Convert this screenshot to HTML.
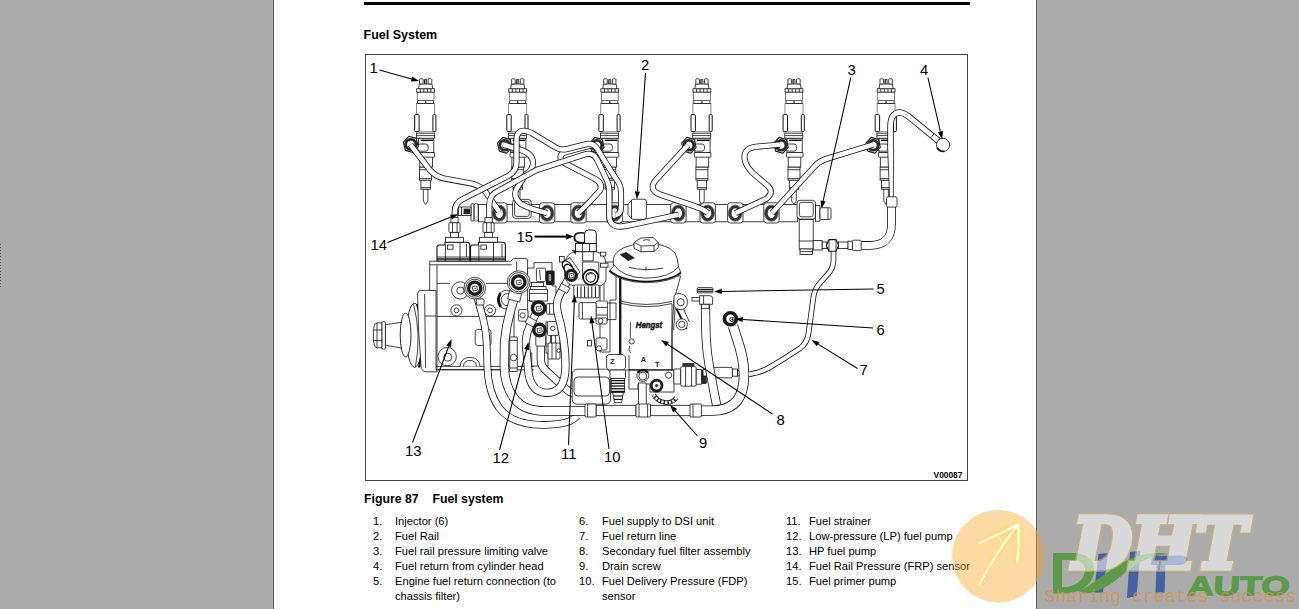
<!DOCTYPE html>
<html lang="en">
<head>
<meta charset="utf-8">
<title>Fuel System</title>
<style>
html,body{margin:0;padding:0;}
body{width:1299px;height:609px;overflow:hidden;background:#ababab;position:relative;font-family:"Liberation Sans",Arial,Helvetica,sans-serif;color:#000;}
.edgeL{position:absolute;left:272px;top:0;width:1px;height:609px;background:#b2b2b2;}
.edgeR{position:absolute;left:1037px;top:0;width:1px;height:609px;background:#b2b2b2;}
.sheet{position:absolute;left:273px;top:0;width:762px;height:609px;background:#fff;border-left:1px solid #555;border-right:1px solid #555;}
.rule{position:absolute;left:364px;top:2px;width:606px;height:3px;background:#000;}
h1{position:absolute;left:363.6px;top:28px;margin:0;font-size:12.5px;line-height:15px;font-weight:bold;white-space:nowrap;}
.cap{position:absolute;left:364px;top:492px;margin:0;font-size:12.3px;line-height:15px;font-weight:bold;white-space:pre;}
.fig{position:absolute;left:365px;top:54px;width:603px;height:427px;border:1px solid #444;box-sizing:border-box;}
ol{list-style:none;margin:0;padding:0;position:absolute;top:514px;font-size:11.15px;line-height:15px;}
ol li{position:relative;height:15px;white-space:nowrap;}
ol li span{position:absolute;left:0;top:0;}
ol li b{font-weight:normal;position:absolute;top:0;white-space:pre;}
#diagram{position:absolute;left:0;top:0;width:1299px;height:609px;}
#diagram text{font-family:"Liberation Sans",Arial,Helvetica,sans-serif;}
.dots{position:absolute;left:0;top:244px;width:1px;height:43px;background:repeating-linear-gradient(to bottom,#5a5a5a 0,#5a5a5a 1px,transparent 1px,transparent 3px);}

</style>
</head>
<body>
<div class="edgeL"></div><div class="edgeR"></div>
<div class="sheet"></div>
<div class="dots"></div>
<div class="rule"></div>
<h1>Fuel System</h1>
<div class="fig"></div>
<svg id="diagram" width="1299" height="609" viewBox="0 0 1299 609">
<rect x="478.4" y="204.5" width="319.0" height="17.3" rx="0" fill="#fff" stroke="#111" stroke-width="0.8"/>
<rect x="471.0" y="203.6" width="3.0" height="17.4" rx="1" fill="#fff" stroke="#111" stroke-width="0.8"/>
<rect x="474.2" y="203.6" width="4.0" height="17.4" rx="1.5" fill="#fff" stroke="#111" stroke-width="0.8"/>
<rect x="458.4" y="207.0" width="12.6" height="8.6" rx="0" fill="#fff" stroke="#111" stroke-width="0.8"/>
<rect x="463.6" y="208.6" width="6.6" height="5.6" fill="#222"/>
<line x1="461.5" y1="207.0" x2="461.5" y2="215.6" stroke="#111" stroke-width="0.8"/>
<rect x="512.6" y="199.4" width="18.6" height="19.0" rx="3" fill="#fff" stroke="#111" stroke-width="0.8"/>
<rect x="514.6" y="201.4" width="14.6" height="15.0" rx="2" fill="#fff" stroke="#111" stroke-width="0.8"/>
<path d="M628 204.5 L631 200.6 Q632 199.2 634 199.2 H644 Q646.4 199.2 646.4 201.6 V217 Q646.4 219.4 644 219.4 H634 Q632 219.4 631 218 L628 214.6 Z" fill="#fff" stroke="#111" stroke-width="0.8" stroke-linejoin="round" />
<line x1="631.5" y1="200.5" x2="631.5" y2="218.5" stroke="#111" stroke-width="0.8"/>
<rect x="797.0" y="200.3" width="18.5" height="18.8" rx="3" fill="#fff" stroke="#111" stroke-width="0.8"/>
<rect x="799.4" y="202.4" width="13.8" height="14.4" rx="2" fill="#fff" stroke="#111" stroke-width="0.8"/>
<rect x="815.5" y="205.6" width="4.4" height="15.6" rx="0" fill="#fff" stroke="#111" stroke-width="0.8"/>
<rect x="820.0" y="207.7" width="11.0" height="11.8" rx="1.5" fill="#fff" stroke="#111" stroke-width="0.8"/>
<line x1="828.0" y1="207.7" x2="828.0" y2="219.5" stroke="#111" stroke-width="0.8"/>
<rect x="799.2" y="219.5" width="14.0" height="29.6" rx="0" fill="#fff" stroke="#111" stroke-width="0.8"/>
<line x1="799.2" y1="241.0" x2="813.2" y2="241.0" stroke="#111" stroke-width="0.8"/>
<rect x="800.0" y="249.0" width="12.4" height="5.4" rx="0" fill="#fff" stroke="#111" stroke-width="0.8"/>
<line x1="800.0" y1="251.6" x2="812.4" y2="251.6" stroke="#111" stroke-width="0.8"/>
<rect x="491.7" y="202.8" width="15.4" height="20.2" rx="2.8" fill="#fff" stroke="#111" stroke-width="0.8"/>
<ellipse cx="499.3" cy="213.20000000000002" rx="5.2" ry="6.4" fill="#fff" stroke="#333" stroke-width="3.0"/>
<ellipse cx="499.3" cy="213.20000000000002" rx="6.9" ry="8.2" fill="none" stroke="#333" stroke-width="0.6"/>
<rect x="539.4" y="202.8" width="15.4" height="20.2" rx="2.8" fill="#fff" stroke="#111" stroke-width="0.8"/>
<ellipse cx="547" cy="213.20000000000002" rx="5.2" ry="6.4" fill="#fff" stroke="#333" stroke-width="3.0"/>
<ellipse cx="547" cy="213.20000000000002" rx="6.9" ry="8.2" fill="none" stroke="#333" stroke-width="0.6"/>
<rect x="570.8" y="202.8" width="15.4" height="20.2" rx="2.8" fill="#fff" stroke="#111" stroke-width="0.8"/>
<ellipse cx="578.4" cy="213.20000000000002" rx="5.2" ry="6.4" fill="#fff" stroke="#333" stroke-width="3.0"/>
<ellipse cx="578.4" cy="213.20000000000002" rx="6.9" ry="8.2" fill="none" stroke="#333" stroke-width="0.6"/>
<rect x="607.0" y="202.8" width="15.4" height="20.2" rx="2.8" fill="#fff" stroke="#111" stroke-width="0.8"/>
<ellipse cx="614.6" cy="213.20000000000002" rx="5.2" ry="6.4" fill="#fff" stroke="#333" stroke-width="3.0"/>
<ellipse cx="614.6" cy="213.20000000000002" rx="6.9" ry="8.2" fill="none" stroke="#333" stroke-width="0.6"/>
<rect x="670.7" y="202.8" width="15.4" height="20.2" rx="2.8" fill="#fff" stroke="#111" stroke-width="0.8"/>
<ellipse cx="678.3" cy="213.20000000000002" rx="5.2" ry="6.4" fill="#fff" stroke="#333" stroke-width="3.0"/>
<ellipse cx="678.3" cy="213.20000000000002" rx="6.9" ry="8.2" fill="none" stroke="#333" stroke-width="0.6"/>
<rect x="700.0" y="202.8" width="15.4" height="20.2" rx="2.8" fill="#fff" stroke="#111" stroke-width="0.8"/>
<ellipse cx="707.6" cy="213.20000000000002" rx="5.2" ry="6.4" fill="#fff" stroke="#333" stroke-width="3.0"/>
<ellipse cx="707.6" cy="213.20000000000002" rx="6.9" ry="8.2" fill="none" stroke="#333" stroke-width="0.6"/>
<rect x="727.6" y="202.8" width="15.4" height="20.2" rx="2.8" fill="#fff" stroke="#111" stroke-width="0.8"/>
<ellipse cx="735.2" cy="213.20000000000002" rx="5.2" ry="6.4" fill="#fff" stroke="#333" stroke-width="3.0"/>
<ellipse cx="735.2" cy="213.20000000000002" rx="6.9" ry="8.2" fill="none" stroke="#333" stroke-width="0.6"/>
<rect x="763.8" y="202.8" width="15.4" height="20.2" rx="2.8" fill="#fff" stroke="#111" stroke-width="0.8"/>
<ellipse cx="771.4" cy="213.20000000000002" rx="5.2" ry="6.4" fill="#fff" stroke="#333" stroke-width="3.0"/>
<ellipse cx="771.4" cy="213.20000000000002" rx="6.9" ry="8.2" fill="none" stroke="#333" stroke-width="0.6"/>
<path d="M423.3 189 V201 L425.6 204.5 L427.90000000000003 201 V189 Z" fill="#fff" stroke="#111" stroke-width="0.8" stroke-linejoin="round" />
<rect x="420.9" y="180.0" width="9.4" height="9.2" rx="0" fill="#fff" stroke="#111" stroke-width="0.8"/>
<line x1="420.9" y1="187.6" x2="430.3" y2="187.6" stroke="#111" stroke-width="0.8"/>
<rect x="419.6" y="167.0" width="12.0" height="13.2" rx="0" fill="#fff" stroke="#111" stroke-width="0.8"/>
<line x1="419.6" y1="169.7" x2="431.6" y2="169.7" stroke="#111" stroke-width="0.8"/>
<line x1="419.6" y1="178.6" x2="431.6" y2="178.6" stroke="#111" stroke-width="0.8"/>
<rect x="419.8" y="156.4" width="12.6" height="10.6" rx="0" fill="#fff" stroke="#111" stroke-width="0.8"/>
<rect x="418.0" y="152.3" width="16.6" height="4.9" rx="0.8" fill="#fff" stroke="#111" stroke-width="0.8"/>
<rect x="418.6" y="138.0" width="15.2" height="14.6" rx="0" fill="#fff" stroke="#111" stroke-width="0.8"/>
<rect x="417.6" y="144.0" width="10.6" height="7.2" rx="2.6" fill="#fff" stroke="#111" stroke-width="0.8"/>
<line x1="420.6" y1="140.3" x2="433.2" y2="140.3" stroke="#111" stroke-width="1.5"/>
<rect x="416.4" y="133.2" width="18.0" height="5.0" rx="0" fill="#fff" stroke="#111" stroke-width="0.8"/>
<line x1="416.4" y1="135.6" x2="434.4" y2="135.6" stroke="#111" stroke-width="0.8"/>
<rect x="416.6" y="103.4" width="18.0" height="28.4" rx="0" fill="#fff" stroke="#555" stroke-width="0.7"/>
<rect x="414.7" y="114.6" width="4.4" height="17.0" rx="1" fill="#fff" stroke="#111" stroke-width="1.0"/>
<rect x="432.9" y="114.6" width="3.0" height="17.0" rx="1" fill="#fff" stroke="#111" stroke-width="1.0"/>
<rect x="417.6" y="100.6" width="16.0" height="2.8" rx="0" fill="#fff" stroke="#111" stroke-width="0.8"/>
<rect x="424.8" y="101.4" width="1.6" height="1.4" fill="#111"/>
<rect x="417.2" y="92.0" width="16.8" height="8.6" rx="0" fill="#fff" stroke="#444" stroke-width="0.7"/>
<rect x="416.7" y="88.7" width="17.8" height="3.4" rx="0" fill="#fff" stroke="#111" stroke-width="0.8"/>
<line x1="420.3" y1="88.7" x2="420.3" y2="92.1" stroke="#111" stroke-width="0.8"/>
<line x1="423.8" y1="88.7" x2="423.8" y2="92.1" stroke="#111" stroke-width="0.8"/>
<line x1="427.4" y1="88.7" x2="427.4" y2="92.1" stroke="#111" stroke-width="0.8"/>
<line x1="430.9" y1="88.7" x2="430.9" y2="92.1" stroke="#111" stroke-width="0.8"/>
<path d="M418.6 88.7 L419.20000000000005 84 H432.0 L432.6 88.7 Z" fill="#fff" stroke="#111" stroke-width="0.8" stroke-linejoin="round" />
<rect x="419.5" y="78.8" width="3.6" height="5.2" rx="0.8" fill="#fff" stroke="#111" stroke-width="0.8"/>
<rect x="428.2" y="78.8" width="3.6" height="5.2" rx="0.8" fill="#fff" stroke="#111" stroke-width="0.8"/>
<rect x="424.0" y="79.2" width="3" height="4.8" fill="#222"/>
<rect x="425.3" y="80" width="0.9" height="3.6" fill="#ddd"/>
<path d="M515.4000000000001 189 V201 L517.7 204.5 L520.0 201 V189 Z" fill="#fff" stroke="#111" stroke-width="0.8" stroke-linejoin="round" />
<rect x="513.0" y="180.0" width="9.4" height="9.2" rx="0" fill="#fff" stroke="#111" stroke-width="0.8"/>
<line x1="513.0" y1="187.6" x2="522.4" y2="187.6" stroke="#111" stroke-width="0.8"/>
<rect x="511.7" y="167.0" width="12.0" height="13.2" rx="0" fill="#fff" stroke="#111" stroke-width="0.8"/>
<line x1="511.7" y1="169.7" x2="523.7" y2="169.7" stroke="#111" stroke-width="0.8"/>
<line x1="511.7" y1="178.6" x2="523.7" y2="178.6" stroke="#111" stroke-width="0.8"/>
<rect x="511.9" y="156.4" width="12.6" height="10.6" rx="0" fill="#fff" stroke="#111" stroke-width="0.8"/>
<rect x="510.1" y="152.3" width="16.6" height="4.9" rx="0.8" fill="#fff" stroke="#111" stroke-width="0.8"/>
<rect x="510.7" y="138.0" width="15.2" height="14.6" rx="0" fill="#fff" stroke="#111" stroke-width="0.8"/>
<rect x="509.7" y="144.0" width="10.6" height="7.2" rx="2.6" fill="#fff" stroke="#111" stroke-width="0.8"/>
<line x1="512.7" y1="140.3" x2="525.3" y2="140.3" stroke="#111" stroke-width="1.5"/>
<rect x="508.5" y="133.2" width="18.0" height="5.0" rx="0" fill="#fff" stroke="#111" stroke-width="0.8"/>
<line x1="508.5" y1="135.6" x2="526.5" y2="135.6" stroke="#111" stroke-width="0.8"/>
<rect x="508.7" y="103.4" width="18.0" height="28.4" rx="0" fill="#fff" stroke="#555" stroke-width="0.7"/>
<rect x="506.8" y="114.6" width="4.4" height="17.0" rx="1" fill="#fff" stroke="#111" stroke-width="1.0"/>
<rect x="525.0" y="114.6" width="3.0" height="17.0" rx="1" fill="#fff" stroke="#111" stroke-width="1.0"/>
<rect x="509.7" y="100.6" width="16.0" height="2.8" rx="0" fill="#fff" stroke="#111" stroke-width="0.8"/>
<rect x="516.9000000000001" y="101.4" width="1.6" height="1.4" fill="#111"/>
<rect x="509.3" y="92.0" width="16.8" height="8.6" rx="0" fill="#fff" stroke="#444" stroke-width="0.7"/>
<rect x="508.8" y="88.7" width="17.8" height="3.4" rx="0" fill="#fff" stroke="#111" stroke-width="0.8"/>
<line x1="512.4" y1="88.7" x2="512.4" y2="92.1" stroke="#111" stroke-width="0.8"/>
<line x1="515.9" y1="88.7" x2="515.9" y2="92.1" stroke="#111" stroke-width="0.8"/>
<line x1="519.5" y1="88.7" x2="519.5" y2="92.1" stroke="#111" stroke-width="0.8"/>
<line x1="523.0" y1="88.7" x2="523.0" y2="92.1" stroke="#111" stroke-width="0.8"/>
<path d="M510.70000000000005 88.7 L511.30000000000007 84 H524.1 L524.7 88.7 Z" fill="#fff" stroke="#111" stroke-width="0.8" stroke-linejoin="round" />
<rect x="511.6" y="78.8" width="3.6" height="5.2" rx="0.8" fill="#fff" stroke="#111" stroke-width="0.8"/>
<rect x="520.3" y="78.8" width="3.6" height="5.2" rx="0.8" fill="#fff" stroke="#111" stroke-width="0.8"/>
<rect x="516.1" y="79.2" width="3" height="4.8" fill="#222"/>
<rect x="517.4000000000001" y="80" width="0.9" height="3.6" fill="#ddd"/>
<path d="M607.5 189 V201 L609.8 204.5 L612.0999999999999 201 V189 Z" fill="#fff" stroke="#111" stroke-width="0.8" stroke-linejoin="round" />
<rect x="605.1" y="180.0" width="9.4" height="9.2" rx="0" fill="#fff" stroke="#111" stroke-width="0.8"/>
<line x1="605.1" y1="187.6" x2="614.5" y2="187.6" stroke="#111" stroke-width="0.8"/>
<rect x="603.8" y="167.0" width="12.0" height="13.2" rx="0" fill="#fff" stroke="#111" stroke-width="0.8"/>
<line x1="603.8" y1="169.7" x2="615.8" y2="169.7" stroke="#111" stroke-width="0.8"/>
<line x1="603.8" y1="178.6" x2="615.8" y2="178.6" stroke="#111" stroke-width="0.8"/>
<rect x="604.0" y="156.4" width="12.6" height="10.6" rx="0" fill="#fff" stroke="#111" stroke-width="0.8"/>
<rect x="602.2" y="152.3" width="16.6" height="4.9" rx="0.8" fill="#fff" stroke="#111" stroke-width="0.8"/>
<rect x="602.8" y="138.0" width="15.2" height="14.6" rx="0" fill="#fff" stroke="#111" stroke-width="0.8"/>
<rect x="601.8" y="144.0" width="10.6" height="7.2" rx="2.6" fill="#fff" stroke="#111" stroke-width="0.8"/>
<line x1="604.8" y1="140.3" x2="617.4" y2="140.3" stroke="#111" stroke-width="1.5"/>
<rect x="600.6" y="133.2" width="18.0" height="5.0" rx="0" fill="#fff" stroke="#111" stroke-width="0.8"/>
<line x1="600.6" y1="135.6" x2="618.6" y2="135.6" stroke="#111" stroke-width="0.8"/>
<rect x="600.8" y="103.4" width="18.0" height="28.4" rx="0" fill="#fff" stroke="#555" stroke-width="0.7"/>
<rect x="598.9" y="114.6" width="4.4" height="17.0" rx="1" fill="#fff" stroke="#111" stroke-width="1.0"/>
<rect x="617.1" y="114.6" width="3.0" height="17.0" rx="1" fill="#fff" stroke="#111" stroke-width="1.0"/>
<rect x="601.8" y="100.6" width="16.0" height="2.8" rx="0" fill="#fff" stroke="#111" stroke-width="0.8"/>
<rect x="609.0" y="101.4" width="1.6" height="1.4" fill="#111"/>
<rect x="601.4" y="92.0" width="16.8" height="8.6" rx="0" fill="#fff" stroke="#444" stroke-width="0.7"/>
<rect x="600.9" y="88.7" width="17.8" height="3.4" rx="0" fill="#fff" stroke="#111" stroke-width="0.8"/>
<line x1="604.5" y1="88.7" x2="604.5" y2="92.1" stroke="#111" stroke-width="0.8"/>
<line x1="608.0" y1="88.7" x2="608.0" y2="92.1" stroke="#111" stroke-width="0.8"/>
<line x1="611.6" y1="88.7" x2="611.6" y2="92.1" stroke="#111" stroke-width="0.8"/>
<line x1="615.1" y1="88.7" x2="615.1" y2="92.1" stroke="#111" stroke-width="0.8"/>
<path d="M602.8 88.7 L603.4 84 H616.1999999999999 L616.8 88.7 Z" fill="#fff" stroke="#111" stroke-width="0.8" stroke-linejoin="round" />
<rect x="603.7" y="78.8" width="3.6" height="5.2" rx="0.8" fill="#fff" stroke="#111" stroke-width="0.8"/>
<rect x="612.4" y="78.8" width="3.6" height="5.2" rx="0.8" fill="#fff" stroke="#111" stroke-width="0.8"/>
<rect x="608.1999999999999" y="79.2" width="3" height="4.8" fill="#222"/>
<rect x="609.5" y="80" width="0.9" height="3.6" fill="#ddd"/>
<path d="M699.6 189 V201 L701.9 204.5 L704.1999999999999 201 V189 Z" fill="#fff" stroke="#111" stroke-width="0.8" stroke-linejoin="round" />
<rect x="697.2" y="180.0" width="9.4" height="9.2" rx="0" fill="#fff" stroke="#111" stroke-width="0.8"/>
<line x1="697.2" y1="187.6" x2="706.6" y2="187.6" stroke="#111" stroke-width="0.8"/>
<rect x="695.9" y="167.0" width="12.0" height="13.2" rx="0" fill="#fff" stroke="#111" stroke-width="0.8"/>
<line x1="695.9" y1="169.7" x2="707.9" y2="169.7" stroke="#111" stroke-width="0.8"/>
<line x1="695.9" y1="178.6" x2="707.9" y2="178.6" stroke="#111" stroke-width="0.8"/>
<rect x="696.1" y="156.4" width="12.6" height="10.6" rx="0" fill="#fff" stroke="#111" stroke-width="0.8"/>
<rect x="694.3" y="152.3" width="16.6" height="4.9" rx="0.8" fill="#fff" stroke="#111" stroke-width="0.8"/>
<rect x="694.9" y="138.0" width="15.2" height="14.6" rx="0" fill="#fff" stroke="#111" stroke-width="0.8"/>
<rect x="693.9" y="144.0" width="10.6" height="7.2" rx="2.6" fill="#fff" stroke="#111" stroke-width="0.8"/>
<line x1="696.9" y1="140.3" x2="709.5" y2="140.3" stroke="#111" stroke-width="1.5"/>
<rect x="692.7" y="133.2" width="18.0" height="5.0" rx="0" fill="#fff" stroke="#111" stroke-width="0.8"/>
<line x1="692.7" y1="135.6" x2="710.7" y2="135.6" stroke="#111" stroke-width="0.8"/>
<rect x="692.9" y="103.4" width="18.0" height="28.4" rx="0" fill="#fff" stroke="#555" stroke-width="0.7"/>
<rect x="691.0" y="114.6" width="4.4" height="17.0" rx="1" fill="#fff" stroke="#111" stroke-width="1.0"/>
<rect x="709.2" y="114.6" width="3.0" height="17.0" rx="1" fill="#fff" stroke="#111" stroke-width="1.0"/>
<rect x="693.9" y="100.6" width="16.0" height="2.8" rx="0" fill="#fff" stroke="#111" stroke-width="0.8"/>
<rect x="701.1" y="101.4" width="1.6" height="1.4" fill="#111"/>
<rect x="693.5" y="92.0" width="16.8" height="8.6" rx="0" fill="#fff" stroke="#444" stroke-width="0.7"/>
<rect x="693.0" y="88.7" width="17.8" height="3.4" rx="0" fill="#fff" stroke="#111" stroke-width="0.8"/>
<line x1="696.6" y1="88.7" x2="696.6" y2="92.1" stroke="#111" stroke-width="0.8"/>
<line x1="700.1" y1="88.7" x2="700.1" y2="92.1" stroke="#111" stroke-width="0.8"/>
<line x1="703.7" y1="88.7" x2="703.7" y2="92.1" stroke="#111" stroke-width="0.8"/>
<line x1="707.2" y1="88.7" x2="707.2" y2="92.1" stroke="#111" stroke-width="0.8"/>
<path d="M694.9 88.7 L695.5 84 H708.3 L708.9 88.7 Z" fill="#fff" stroke="#111" stroke-width="0.8" stroke-linejoin="round" />
<rect x="695.8" y="78.8" width="3.6" height="5.2" rx="0.8" fill="#fff" stroke="#111" stroke-width="0.8"/>
<rect x="704.5" y="78.8" width="3.6" height="5.2" rx="0.8" fill="#fff" stroke="#111" stroke-width="0.8"/>
<rect x="700.3" y="79.2" width="3" height="4.8" fill="#222"/>
<rect x="701.6" y="80" width="0.9" height="3.6" fill="#ddd"/>
<path d="M791.7 189 V201 L794.0 204.5 L796.3 201 V189 Z" fill="#fff" stroke="#111" stroke-width="0.8" stroke-linejoin="round" />
<rect x="789.3" y="180.0" width="9.4" height="9.2" rx="0" fill="#fff" stroke="#111" stroke-width="0.8"/>
<line x1="789.3" y1="187.6" x2="798.7" y2="187.6" stroke="#111" stroke-width="0.8"/>
<rect x="788.0" y="167.0" width="12.0" height="13.2" rx="0" fill="#fff" stroke="#111" stroke-width="0.8"/>
<line x1="788.0" y1="169.7" x2="800.0" y2="169.7" stroke="#111" stroke-width="0.8"/>
<line x1="788.0" y1="178.6" x2="800.0" y2="178.6" stroke="#111" stroke-width="0.8"/>
<rect x="788.2" y="156.4" width="12.6" height="10.6" rx="0" fill="#fff" stroke="#111" stroke-width="0.8"/>
<rect x="786.4" y="152.3" width="16.6" height="4.9" rx="0.8" fill="#fff" stroke="#111" stroke-width="0.8"/>
<rect x="787.0" y="138.0" width="15.2" height="14.6" rx="0" fill="#fff" stroke="#111" stroke-width="0.8"/>
<rect x="786.0" y="144.0" width="10.6" height="7.2" rx="2.6" fill="#fff" stroke="#111" stroke-width="0.8"/>
<line x1="789.0" y1="140.3" x2="801.6" y2="140.3" stroke="#111" stroke-width="1.5"/>
<rect x="784.8" y="133.2" width="18.0" height="5.0" rx="0" fill="#fff" stroke="#111" stroke-width="0.8"/>
<line x1="784.8" y1="135.6" x2="802.8" y2="135.6" stroke="#111" stroke-width="0.8"/>
<rect x="785.0" y="103.4" width="18.0" height="28.4" rx="0" fill="#fff" stroke="#555" stroke-width="0.7"/>
<rect x="783.1" y="114.6" width="4.4" height="17.0" rx="1" fill="#fff" stroke="#111" stroke-width="1.0"/>
<rect x="801.3" y="114.6" width="3.0" height="17.0" rx="1" fill="#fff" stroke="#111" stroke-width="1.0"/>
<rect x="786.0" y="100.6" width="16.0" height="2.8" rx="0" fill="#fff" stroke="#111" stroke-width="0.8"/>
<rect x="793.2" y="101.4" width="1.6" height="1.4" fill="#111"/>
<rect x="785.6" y="92.0" width="16.8" height="8.6" rx="0" fill="#fff" stroke="#444" stroke-width="0.7"/>
<rect x="785.1" y="88.7" width="17.8" height="3.4" rx="0" fill="#fff" stroke="#111" stroke-width="0.8"/>
<line x1="788.7" y1="88.7" x2="788.7" y2="92.1" stroke="#111" stroke-width="0.8"/>
<line x1="792.2" y1="88.7" x2="792.2" y2="92.1" stroke="#111" stroke-width="0.8"/>
<line x1="795.8" y1="88.7" x2="795.8" y2="92.1" stroke="#111" stroke-width="0.8"/>
<line x1="799.3" y1="88.7" x2="799.3" y2="92.1" stroke="#111" stroke-width="0.8"/>
<path d="M787.0 88.7 L787.6 84 H800.4 L801.0 88.7 Z" fill="#fff" stroke="#111" stroke-width="0.8" stroke-linejoin="round" />
<rect x="787.9" y="78.8" width="3.6" height="5.2" rx="0.8" fill="#fff" stroke="#111" stroke-width="0.8"/>
<rect x="796.6" y="78.8" width="3.6" height="5.2" rx="0.8" fill="#fff" stroke="#111" stroke-width="0.8"/>
<rect x="792.4" y="79.2" width="3" height="4.8" fill="#222"/>
<rect x="793.7" y="80" width="0.9" height="3.6" fill="#ddd"/>
<path d="M883.8000000000001 189 V201 L886.1 204.5 L888.4 201 V189 Z" fill="#fff" stroke="#111" stroke-width="0.8" stroke-linejoin="round" />
<rect x="881.4" y="180.0" width="9.4" height="9.2" rx="0" fill="#fff" stroke="#111" stroke-width="0.8"/>
<line x1="881.4" y1="187.6" x2="890.8" y2="187.6" stroke="#111" stroke-width="0.8"/>
<rect x="880.1" y="167.0" width="12.0" height="13.2" rx="0" fill="#fff" stroke="#111" stroke-width="0.8"/>
<line x1="880.1" y1="169.7" x2="892.1" y2="169.7" stroke="#111" stroke-width="0.8"/>
<line x1="880.1" y1="178.6" x2="892.1" y2="178.6" stroke="#111" stroke-width="0.8"/>
<rect x="880.3" y="156.4" width="12.6" height="10.6" rx="0" fill="#fff" stroke="#111" stroke-width="0.8"/>
<rect x="878.5" y="152.3" width="16.6" height="4.9" rx="0.8" fill="#fff" stroke="#111" stroke-width="0.8"/>
<rect x="879.1" y="138.0" width="15.2" height="14.6" rx="0" fill="#fff" stroke="#111" stroke-width="0.8"/>
<rect x="878.1" y="144.0" width="10.6" height="7.2" rx="2.6" fill="#fff" stroke="#111" stroke-width="0.8"/>
<line x1="881.1" y1="140.3" x2="893.7" y2="140.3" stroke="#111" stroke-width="1.5"/>
<rect x="876.9" y="133.2" width="18.0" height="5.0" rx="0" fill="#fff" stroke="#111" stroke-width="0.8"/>
<line x1="876.9" y1="135.6" x2="894.9" y2="135.6" stroke="#111" stroke-width="0.8"/>
<rect x="877.1" y="103.4" width="18.0" height="28.4" rx="0" fill="#fff" stroke="#555" stroke-width="0.7"/>
<rect x="875.2" y="114.6" width="4.4" height="17.0" rx="1" fill="#fff" stroke="#111" stroke-width="1.0"/>
<rect x="893.4" y="114.6" width="3.0" height="17.0" rx="1" fill="#fff" stroke="#111" stroke-width="1.0"/>
<rect x="878.1" y="100.6" width="16.0" height="2.8" rx="0" fill="#fff" stroke="#111" stroke-width="0.8"/>
<rect x="885.3000000000001" y="101.4" width="1.6" height="1.4" fill="#111"/>
<rect x="877.7" y="92.0" width="16.8" height="8.6" rx="0" fill="#fff" stroke="#444" stroke-width="0.7"/>
<rect x="877.2" y="88.7" width="17.8" height="3.4" rx="0" fill="#fff" stroke="#111" stroke-width="0.8"/>
<line x1="880.8" y1="88.7" x2="880.8" y2="92.1" stroke="#111" stroke-width="0.8"/>
<line x1="884.3" y1="88.7" x2="884.3" y2="92.1" stroke="#111" stroke-width="0.8"/>
<line x1="887.9" y1="88.7" x2="887.9" y2="92.1" stroke="#111" stroke-width="0.8"/>
<line x1="891.4" y1="88.7" x2="891.4" y2="92.1" stroke="#111" stroke-width="0.8"/>
<path d="M879.1 88.7 L879.7 84 H892.5 L893.1 88.7 Z" fill="#fff" stroke="#111" stroke-width="0.8" stroke-linejoin="round" />
<rect x="880.0" y="78.8" width="3.6" height="5.2" rx="0.8" fill="#fff" stroke="#111" stroke-width="0.8"/>
<rect x="888.7" y="78.8" width="3.6" height="5.2" rx="0.8" fill="#fff" stroke="#111" stroke-width="0.8"/>
<rect x="884.5" y="79.2" width="3" height="4.8" fill="#222"/>
<rect x="885.8000000000001" y="80" width="0.9" height="3.6" fill="#ddd"/>
<polygon points="511.9,147.4 506.6,153.2 499.4,151.1 497.5,143.2 502.8,137.4 510.0,139.5" fill="#fff" stroke="#111" stroke-width="1.1" stroke-linejoin="round"/>
<circle cx="504.70000000000005" cy="145.3" r="4.8999999999999995" fill="#fff" stroke="#2a2a2a" stroke-width="2.8"/>
<polygon points="604.0,147.4 598.7,153.2 591.5,151.1 589.6,143.2 594.9,137.4 602.1,139.5" fill="#fff" stroke="#111" stroke-width="1.1" stroke-linejoin="round"/>
<circle cx="596.8" cy="145.3" r="4.8999999999999995" fill="#fff" stroke="#2a2a2a" stroke-width="2.8"/>
<polygon points="696.1,147.4 690.8,153.2 683.6,151.1 681.7,143.2 687.0,137.4 694.2,139.5" fill="#fff" stroke="#111" stroke-width="1.1" stroke-linejoin="round"/>
<circle cx="688.9" cy="145.3" r="4.8999999999999995" fill="#fff" stroke="#2a2a2a" stroke-width="2.8"/>
<polygon points="788.2,147.4 782.9,153.2 775.7,151.1 773.8,143.2 779.1,137.4 786.3,139.5" fill="#fff" stroke="#111" stroke-width="1.1" stroke-linejoin="round"/>
<circle cx="781.0" cy="145.3" r="4.8999999999999995" fill="#fff" stroke="#2a2a2a" stroke-width="2.8"/>
<polygon points="880.3,147.4 875.0,153.2 867.8,151.1 865.9,143.2 871.2,137.4 878.4,139.5" fill="#fff" stroke="#111" stroke-width="1.1" stroke-linejoin="round"/>
<circle cx="873.1" cy="145.3" r="4.8999999999999995" fill="#fff" stroke="#2a2a2a" stroke-width="2.8"/>
<polygon points="418.2,146.6 412.8,152.5 405.4,150.4 403.4,142.2 408.8,136.3 416.2,138.4" fill="#fff" stroke="#111" stroke-width="1.1" stroke-linejoin="round"/>
<circle cx="410.8" cy="144.4" r="5.1" fill="#fff" stroke="#2a2a2a" stroke-width="2.8"/>
<path d="M503 144.5 L521 150 Q533 154 533 163 Q533 170 526 174 L517 188 Q512 197 521 204 Q530 209 547 213" fill="none" stroke="#111" stroke-width="6.1" stroke-linecap="butt" stroke-linejoin="round"/><path d="M503 144.5 L521 150 Q533 154 533 163 Q533 170 526 174 L517 188 Q512 197 521 204 Q530 209 547 213" fill="none" stroke="#fff" stroke-width="4.5" stroke-linecap="butt" stroke-linejoin="round"/>
<path d="M596 144 L566 152 Q557 155 562.5 162 L594 178.4 Q603.5 183 600 190.5 L590.5 201 L578.5 213" fill="none" stroke="#111" stroke-width="6.1" stroke-linecap="butt" stroke-linejoin="round"/><path d="M596 144 L566 152 Q557 155 562.5 162 L594 178.4 Q603.5 183 600 190.5 L590.5 201 L578.5 213" fill="none" stroke="#fff" stroke-width="4.5" stroke-linecap="butt" stroke-linejoin="round"/>
<path d="M410.4 144.6 L429.6 169.6 Q435 176.4 444 178.4 L471 183.4 Q481 185.4 486 192.6 L499 211.4" fill="none" stroke="#111" stroke-width="6.1" stroke-linecap="butt" stroke-linejoin="round"/><path d="M410.4 144.6 L429.6 169.6 Q435 176.4 444 178.4 L471 183.4 Q481 185.4 486 192.6 L499 211.4" fill="none" stroke="#fff" stroke-width="4.5" stroke-linecap="butt" stroke-linejoin="round"/>
<path d="M688 145 L655 181 Q648.5 190 660 194.5 L694 206 Q703 209 708 213" fill="none" stroke="#111" stroke-width="6.1" stroke-linecap="butt" stroke-linejoin="round"/><path d="M688 145 L655 181 Q648.5 190 660 194.5 L694 206 Q703 209 708 213" fill="none" stroke="#fff" stroke-width="4.5" stroke-linecap="butt" stroke-linejoin="round"/>
<path d="M780 144.6 L756 146.8 Q742 148.5 745 161 Q747 168 755 175 L768 186 Q774.5 192.5 766 199 L735.5 213" fill="none" stroke="#111" stroke-width="6.1" stroke-linecap="butt" stroke-linejoin="round"/><path d="M780 144.6 L756 146.8 Q742 148.5 745 161 Q747 168 755 175 L768 186 Q774.5 192.5 766 199 L735.5 213" fill="none" stroke="#fff" stroke-width="4.5" stroke-linecap="butt" stroke-linejoin="round"/>
<path d="M873 144.7 L826 159 Q819 161.4 815 166 L772 213" fill="none" stroke="#111" stroke-width="6.1" stroke-linecap="butt" stroke-linejoin="round"/><path d="M873 144.7 L826 159 Q819 161.4 815 166 L772 213" fill="none" stroke="#fff" stroke-width="4.5" stroke-linecap="butt" stroke-linejoin="round"/>
<path d="M454.7 222 V212 Q454.7 203 463 199 L508 176 Q516.5 171.5 516.5 162 V140 Q516.5 129.5 526 131 Q529.5 131.6 533 133.8 L556 147.6 Q561 150.6 567 149 L586 144.2 Q594 142.4 598 150 L611.5 172 L618.5 182.5 Q621 186.5 621 192 V207 Q621 214.5 615.5 215" fill="none" stroke="#111" stroke-width="6.1" stroke-linecap="butt" stroke-linejoin="round"/><path d="M454.7 222 V212 Q454.7 203 463 199 L508 176 Q516.5 171.5 516.5 162 V140 Q516.5 129.5 526 131 Q529.5 131.6 533 133.8 L556 147.6 Q561 150.6 567 149 L586 144.2 Q594 142.4 598 150 L611.5 172 L618.5 182.5 Q621 186.5 621 192 V207 Q621 214.5 615.5 215" fill="none" stroke="#fff" stroke-width="4.5" stroke-linecap="butt" stroke-linejoin="round"/>
<path d="M489.3 222 V205 Q489.3 194.5 499 190.5 L536.6 170 L585 154.4 Q593 152 597 159.5 L607 180.5 Q609.3 185.5 609.3 191 V215.4 Q609.3 227 621 226.6 Q626 226.2 632 224.8 L678.5 214.8" fill="none" stroke="#111" stroke-width="6.1" stroke-linecap="butt" stroke-linejoin="round"/><path d="M489.3 222 V205 Q489.3 194.5 499 190.5 L536.6 170 L585 154.4 Q593 152 597 159.5 L607 180.5 Q609.3 185.5 609.3 191 V215.4 Q609.3 227 621 226.6 Q626 226.2 632 224.8 L678.5 214.8" fill="none" stroke="#fff" stroke-width="4.5" stroke-linecap="butt" stroke-linejoin="round"/>
<rect x="892" y="132.6" width="6" height="73" fill="#fff"/>
<path d="M938.6 141 L907.5 115.6 Q899 109.6 893.6 115 Q890.5 119 890.5 126 V150" fill="none" stroke="#111" stroke-width="6.4" stroke-linecap="butt" stroke-linejoin="round"/><path d="M938.6 141 L907.5 115.6 Q899 109.6 893.6 115 Q890.5 119 890.5 126 V150" fill="none" stroke="#fff" stroke-width="4.800000000000001" stroke-linecap="butt" stroke-linejoin="round"/>
<path d="M887.7 149 L889.6 197 H893.3 L893.7 149 Z" fill="#fff" stroke="#111" stroke-width="0" stroke-linejoin="round" />
<line x1="887.7" y1="149.0" x2="889.6" y2="197.0" stroke="#111" stroke-width="0.8"/>
<line x1="893.7" y1="149.0" x2="893.3" y2="197.0" stroke="#111" stroke-width="0.8"/>
<path d="M930.6 138 L934.2 133.6 L940 138.4 L936.4 142.8 Z" fill="#fff" stroke="#111" stroke-width="0.8" stroke-linejoin="round" />
<circle cx="943.0" cy="144.9" r="6.6" fill="#fff" stroke="#111" stroke-width="0.8"/>
<path d="M937.2 147.6 Q939.4 151.8 944.4 151.4" fill="none" stroke="#111" stroke-width="1.8" stroke-linejoin="round" />
<path d="M385.3 324.7 L402.5 322.2 V348.2 L385.3 345.2 Z" fill="#fff" stroke="#111" stroke-width="0.8" stroke-linejoin="round" />
<path d="M374.6 324.4 L377 322.8 H382 V347.8 H377 L374.6 346.2 L373.4 341 V329.6 Z" fill="#fff" stroke="#111" stroke-width="0.8" stroke-linejoin="round" />
<line x1="373.6" y1="330.0" x2="382.0" y2="330.0" stroke="#111" stroke-width="0.8"/>
<line x1="373.6" y1="340.6" x2="382.0" y2="340.6" stroke="#111" stroke-width="0.8"/>
<line x1="377.0" y1="322.8" x2="377.0" y2="347.8" stroke="#111" stroke-width="0.8"/>
<rect x="382.0" y="321.6" width="3.4" height="27.6" rx="1.2" fill="#fff" stroke="#111" stroke-width="0.8"/>
<ellipse cx="414.6" cy="335.3" rx="8.2" ry="32" fill="#fff" stroke="#111" stroke-width="0.9"/>
<path d="M417 304 Q426.5 335 419 367.4" fill="none" stroke="#111" stroke-width="2.2" stroke-linejoin="round" />
<path d="M413.6 304.4 Q421.6 335 415.4 367" fill="none" stroke="#111" stroke-width="0.8" stroke-linejoin="round" />
<ellipse cx="405.6" cy="335" rx="5.4" ry="21.8" fill="#fff" stroke="#111" stroke-width="0.9"/>
<path d="M420 290.4 Q417.6 291 417.6 296 L418.6 330 L421 366 Q421.6 371.6 426 371.8 H437 V290.4 Z" fill="#fff" stroke="#111" stroke-width="0.8" stroke-linejoin="round" />
<line x1="424.6" y1="294.0" x2="425.6" y2="368.0" stroke="#111" stroke-width="0.8"/>
<line x1="424.8" y1="316.0" x2="436.0" y2="316.0" stroke="#111" stroke-width="0.8"/>
<path d="M429.7 261.2 H514 V369.6 H436 V290.4 H429.7 Z" fill="#fff" stroke="#111" stroke-width="0.8" stroke-linejoin="round" />
<line x1="437.0" y1="264.8" x2="437.0" y2="369.0" stroke="#111" stroke-width="0.8"/>
<line x1="430.0" y1="264.8" x2="514.0" y2="264.8" stroke="#111" stroke-width="0.8"/>
<line x1="437.0" y1="283.4" x2="450.0" y2="283.4" stroke="#111" stroke-width="0.8"/>
<line x1="486.0" y1="283.4" x2="508.0" y2="283.4" stroke="#111" stroke-width="0.8"/>
<line x1="437.0" y1="316.4" x2="514.0" y2="316.4" stroke="#111" stroke-width="0.8"/>
<line x1="436.0" y1="366.4" x2="534.0" y2="366.4" stroke="#111" stroke-width="0.8"/>
<line x1="436.0" y1="369.8" x2="534.0" y2="369.8" stroke="#111" stroke-width="0.8"/>
<circle cx="447.2" cy="356.6" r="9.2" fill="#fff" stroke="#111" stroke-width="0.8"/>
<circle cx="447.8" cy="357.2" r="4.0" fill="#fff" stroke="#111" stroke-width="0.8"/>
<path d="M460 366.4 Q461 357.4 470 357.4 Q479 357.4 480 366.4" fill="#fff" stroke="#111" stroke-width="0.8" stroke-linejoin="round" />
<path d="M463.4 366.4 Q464 360.4 470 360.4 Q476 360.4 476.6 366.4" fill="none" stroke="#111" stroke-width="0.8" stroke-linejoin="round" />
<circle cx="456.4" cy="310.4" r="5.6" fill="#fff" stroke="#111" stroke-width="0.8"/>
<circle cx="456.4" cy="310.4" r="2.4" fill="#fff" stroke="#111" stroke-width="0.8"/>
<circle cx="490.0" cy="310.4" r="5.6" fill="#fff" stroke="#111" stroke-width="0.8"/>
<circle cx="490.0" cy="310.4" r="2.4" fill="#fff" stroke="#111" stroke-width="0.8"/>
<rect x="475.2" y="329.4" width="15.8" height="16.0" rx="2.5" fill="#fff" stroke="#111" stroke-width="0.8"/>
<path d="M511 261 L513.6 258.4 H525 Q527.6 258.4 527.6 261 V276 H514" fill="#fff" stroke="#111" stroke-width="0.8" stroke-linejoin="round" />
<line x1="516.6" y1="261.4" x2="516.6" y2="276.0" stroke="#111" stroke-width="0.8"/>
<path d="M437 261 V247.5 Q437 245 439.5 245 H445 V242.2 H466.8 Q469.8 242.2 469.8 245 V261 Z" fill="#fff" stroke="#111" stroke-width="1.1" stroke-linejoin="round" />
<line x1="445.4" y1="245.0" x2="445.4" y2="261.0" stroke="#111" stroke-width="0.8"/>
<line x1="460.0" y1="242.2" x2="460.0" y2="261.0" stroke="#111" stroke-width="0.8"/>
<line x1="437.0" y1="257.0" x2="469.8" y2="257.0" stroke="#111" stroke-width="0.8"/>
<line x1="437.0" y1="259.0" x2="469.8" y2="259.0" stroke="#111" stroke-width="1.4"/>
<rect x="447.4" y="245.0" width="5.6" height="4.2" rx="0" fill="#fff" stroke="#111" stroke-width="0.8"/>
<line x1="466.4" y1="244.0" x2="466.4" y2="257.0" stroke="#111" stroke-width="0.8"/>
<path d="M470.5 261 V247.5 Q470.5 245 473.0 245 H478.5 V242.2 H502.4 Q505.4 242.2 505.4 245 V261 Z" fill="#fff" stroke="#111" stroke-width="1.1" stroke-linejoin="round" />
<line x1="478.9" y1="245.0" x2="478.9" y2="261.0" stroke="#111" stroke-width="0.8"/>
<line x1="493.5" y1="242.2" x2="493.5" y2="261.0" stroke="#111" stroke-width="0.8"/>
<line x1="470.5" y1="257.0" x2="505.4" y2="257.0" stroke="#111" stroke-width="0.8"/>
<line x1="470.5" y1="259.0" x2="505.4" y2="259.0" stroke="#111" stroke-width="1.4"/>
<rect x="480.9" y="245.0" width="5.6" height="4.2" rx="0" fill="#fff" stroke="#111" stroke-width="0.8"/>
<line x1="502.0" y1="244.0" x2="502.0" y2="257.0" stroke="#111" stroke-width="0.8"/>
<rect x="450.9" y="217.6" width="7.2" height="5.4" rx="0" fill="#fff" stroke="#111" stroke-width="0.8"/>
<rect x="448.9" y="222.7" width="11.2" height="9.7" rx="1" fill="#fff" stroke="#111" stroke-width="0.8"/>
<line x1="452.5" y1="222.7" x2="452.5" y2="232.4" stroke="#111" stroke-width="0.8"/>
<line x1="457.1" y1="222.7" x2="457.1" y2="232.4" stroke="#111" stroke-width="0.8"/>
<rect x="450.6" y="232.4" width="7.8" height="5.0" rx="0" fill="#fff" stroke="#111" stroke-width="0.8"/>
<rect x="445.5" y="237.3" width="18.0" height="4.9" rx="0" fill="#fff" stroke="#111" stroke-width="0.8"/>
<rect x="485.0" y="217.6" width="7.2" height="5.4" rx="0" fill="#fff" stroke="#111" stroke-width="0.8"/>
<rect x="483.0" y="222.7" width="11.2" height="9.7" rx="1" fill="#fff" stroke="#111" stroke-width="0.8"/>
<line x1="486.6" y1="222.7" x2="486.6" y2="232.4" stroke="#111" stroke-width="0.8"/>
<line x1="491.2" y1="222.7" x2="491.2" y2="232.4" stroke="#111" stroke-width="0.8"/>
<rect x="484.7" y="232.4" width="7.8" height="5.0" rx="0" fill="#fff" stroke="#111" stroke-width="0.8"/>
<rect x="479.6" y="237.3" width="18.0" height="4.9" rx="0" fill="#fff" stroke="#111" stroke-width="0.8"/>
<circle cx="506.8" cy="299.7" r="9.4" fill="#fff" stroke="#111" stroke-width="0.8"/>
<path d="M500.5 293 Q496.6 300 500.8 307" fill="none" stroke="#111" stroke-width="2.6" stroke-linejoin="round" />
<circle cx="507.6" cy="299.7" r="6.2" fill="#fff" stroke="#111" stroke-width="0.8"/>
<circle cx="460.2" cy="290.4" r="8.6" fill="#fff" stroke="#111" stroke-width="0.8"/>
<circle cx="460.4" cy="290.6" r="3.6" fill="#fff" stroke="#111" stroke-width="0.8"/>
<path d="M527.6 268 H534 V262.6 H552 V286 H556 V300 H560 V352 H548 V366 H527.6 Z" fill="#fff" stroke="#111" stroke-width="0.8" stroke-linejoin="round" />
<rect x="536.4" y="268.2" width="9.2" height="13.4" rx="1" fill="#fff" stroke="#111" stroke-width="0.8"/>
<line x1="539.6" y1="270.0" x2="540.4" y2="280.0" stroke="#111" stroke-width="0.8"/>
<rect x="546" y="270.6" width="8.6" height="14.4" rx="1.5" fill="#1a1a1a"/>
<rect x="548.6" y="274" width="2.6" height="7" rx="1" fill="#999"/>
<rect x="531.6" y="282.4" width="12.0" height="4.2" rx="0" fill="#fff" stroke="#111" stroke-width="0.8"/>
<rect x="530.4" y="286.6" width="15.6" height="8.0" rx="0" fill="#fff" stroke="#111" stroke-width="0.8"/>
<rect x="518.6" y="309.6" width="9.4" height="11.6" rx="1.5" fill="#fff" stroke="#111" stroke-width="0.8"/>
<circle cx="522.6" cy="315.4" r="2.6" fill="#fff" stroke="#111" stroke-width="0.8"/>
<rect x="546.0" y="322.0" width="4.6" height="22.0" rx="0" fill="#fff" stroke="#111" stroke-width="0.8"/>
<rect x="551.4" y="330.0" width="4.0" height="18.0" rx="0" fill="#fff" stroke="#111" stroke-width="0.8"/>
<rect x="546.0" y="346.0" width="9.4" height="7.0" rx="0" fill="#fff" stroke="#111" stroke-width="0.8"/>
<rect x="546.6" y="303.6" width="11.0" height="10.6" rx="1" fill="#fff" stroke="#111" stroke-width="0.8"/>
<line x1="549.6" y1="303.6" x2="549.6" y2="314.2" stroke="#111" stroke-width="0.8"/>
<line x1="554.0" y1="303.6" x2="554.0" y2="314.2" stroke="#111" stroke-width="0.8"/>
<rect x="547.6" y="321.6" width="10.6" height="14.0" rx="1" fill="#fff" stroke="#111" stroke-width="0.8"/>
<circle cx="552.8" cy="328.4" r="2.2" fill="#fff" stroke="#111" stroke-width="0.8"/>
<rect x="548.0" y="343.0" width="12.0" height="16.0" rx="1" fill="#fff" stroke="#111" stroke-width="0.8"/>
<line x1="552.0" y1="343.0" x2="552.0" y2="359.0" stroke="#111" stroke-width="0.8"/>
<line x1="556.0" y1="343.0" x2="556.0" y2="359.0" stroke="#111" stroke-width="0.8"/>
<rect x="529.4" y="289.4" width="18.0" height="11.6" rx="0" fill="#fff" stroke="#111" stroke-width="0.8"/>
<line x1="529.4" y1="293.4" x2="547.4" y2="293.4" stroke="#111" stroke-width="0.8"/>
<path d="M527.6 300 L534 303 V316" fill="none" stroke="#111" stroke-width="0.8" stroke-linejoin="round" />
<rect x="560.4" y="336.0" width="3.6" height="9.0" rx="0" fill="#fff" stroke="#111" stroke-width="0.8"/>
<circle cx="558.6" cy="350.6" r="1.8" fill="#fff" stroke="#111" stroke-width="0.8"/>
<rect x="509.8" y="337.0" width="7.4" height="34.4" rx="0" fill="#fff" stroke="#111" stroke-width="0.8"/>
<circle cx="513.6" cy="357.6" r="3.3" fill="#fff" stroke="#111" stroke-width="0.8"/>
<line x1="509.8" y1="340.4" x2="517.2" y2="340.4" stroke="#111" stroke-width="0.8"/>
<line x1="509.8" y1="368.0" x2="517.2" y2="368.0" stroke="#111" stroke-width="0.8"/>
<rect x="525.2" y="353.0" width="6.6" height="17.6" rx="0" fill="#fff" stroke="#111" stroke-width="0.8"/>
<path d="M540.8 346 V360 Q540.8 366 546 370.6 L566 389 Q572 394.6 580 395" fill="none" stroke="#111" stroke-width="8.2" stroke-linecap="butt" stroke-linejoin="round"/><path d="M540.8 346 V360 Q540.8 366 546 370.6 L566 389 Q572 394.6 580 395" fill="none" stroke="#fff" stroke-width="6.6" stroke-linecap="butt" stroke-linejoin="round"/>
<rect x="535.8" y="335.7" width="9.8" height="10.4" rx="1" fill="#fff" stroke="#111" stroke-width="0.8"/>
<path d="M476.4 294 L481 311 Q485.6 326 486.6 342 L487.4 366 Q488 392 499 407.6 Q512 425 544 424.9 Q562 424.6 570 421 Q575 418.6 577 416" fill="none" stroke="#111" stroke-width="7.6" stroke-linecap="butt" stroke-linejoin="round"/><path d="M476.4 294 L481 311 Q485.6 326 486.6 342 L487.4 366 Q488 392 499 407.6 Q512 425 544 424.9 Q562 424.6 570 421 Q575 418.6 577 416" fill="none" stroke="#fff" stroke-width="6.0" stroke-linecap="butt" stroke-linejoin="round"/>
<rect x="476.4" y="299.0" width="7.6" height="6.0" rx="1" fill="#fff" stroke="#111" stroke-width="0.8"/>
<path d="M516.6 290 L510.6 310 Q506 326 504.6 342 L504.3 366 Q504.6 386 514 398 Q523 411 545 411 H586" fill="none" stroke="#111" stroke-width="9.4" stroke-linecap="butt" stroke-linejoin="round"/><path d="M516.6 290 L510.6 310 Q506 326 504.6 342 L504.3 366 Q504.6 386 514 398 Q523 411 545 411 H586" fill="none" stroke="#fff" stroke-width="7.800000000000001" stroke-linecap="butt" stroke-linejoin="round"/>
<path d="M509.6 290.6 L521.6 293.6 L519.6 302 L507.6 299 Z" fill="#fff" stroke="#111" stroke-width="0.8" stroke-linejoin="round" />
<path d="M537 311 L529 328 Q525.4 336 526 346 L528 368 Q529.6 392.8 547 392.8 Q565.5 392.8 565.5 366 Q565.5 340 558 314 Q555 303 560 294 L568.5 279" fill="none" stroke="#111" stroke-width="8.2" stroke-linecap="butt" stroke-linejoin="round"/><path d="M537 311 L529 328 Q525.4 336 526 346 L528 368 Q529.6 392.8 547 392.8 Q565.5 392.8 565.5 366 Q565.5 340 558 314 Q555 303 560 294 L568.5 279" fill="none" stroke="#fff" stroke-width="6.6" stroke-linecap="butt" stroke-linejoin="round"/>
<path d="M528.4 316.6 L536.6 321 L533.4 327 L525.2 322.6 Z" fill="#fff" stroke="#111" stroke-width="0.8" stroke-linejoin="round" />
<path d="M561.6 283.4 L570 288 L567 293.4 L558.6 288.8 Z" fill="#fff" stroke="#111" stroke-width="0.8" stroke-linejoin="round" />
<circle cx="474.7" cy="288.2" r="10.8" fill="#fff" stroke="#111" stroke-width="0.8"/>
<circle cx="474.7" cy="288.2" r="9.0" fill="#fff" stroke="#111" stroke-width="0.8"/>
<circle cx="474.7" cy="288.2" r="6.1" fill="#fff" stroke="#1c1c1c" stroke-width="3.4"/>
<rect x="472.5" y="286.4" width="4.6" height="4.2" fill="#fff" stroke="#111" stroke-width="0.7" transform="rotate(-12 474.7 288.2)"/>
<circle cx="475.09999999999997" cy="288.4" r="0.7" fill="#333"/>
<circle cx="518.7" cy="282.2" r="11.4" fill="#fff" stroke="#111" stroke-width="0.8"/>
<circle cx="518.7" cy="282.2" r="9.6" fill="#fff" stroke="#111" stroke-width="0.8"/>
<circle cx="518.7" cy="282.2" r="6.3" fill="#fff" stroke="#1c1c1c" stroke-width="3.4"/>
<rect x="516.5" y="280.4" width="4.6" height="4.2" fill="#fff" stroke="#111" stroke-width="0.7" transform="rotate(-12 518.7 282.2)"/>
<circle cx="519.1" cy="282.4" r="0.7" fill="#333"/>
<circle cx="538.6" cy="308.2" r="6.2" fill="#fff" stroke="#1c1c1c" stroke-width="3.6"/>
<rect x="536.4" y="306.4" width="4.6" height="4.2" fill="#fff" stroke="#111" stroke-width="0.7" transform="rotate(-12 538.6 308.2)"/>
<circle cx="539.0" cy="308.4" r="0.7" fill="#333"/>
<circle cx="539.5" cy="330" r="5.7" fill="#fff" stroke="#1c1c1c" stroke-width="3.4"/>
<rect x="537.3" y="328.2" width="4.6" height="4.2" fill="#fff" stroke="#111" stroke-width="0.7" transform="rotate(-12 539.5 330)"/>
<circle cx="539.9" cy="330.2" r="0.7" fill="#333"/>
<path d="M600 262 H616 V300 H610 V352 H600 Z" fill="#fff" stroke="#111" stroke-width="0.8" stroke-linejoin="round" />
<line x1="604.0" y1="262.0" x2="604.0" y2="300.0" stroke="#111" stroke-width="0.8"/>
<path d="M619.5 276 V370 H672 V330 L674 300 L680.7 276 Z" fill="#fff" stroke="#111" stroke-width="0.8" stroke-linejoin="round" />
<line x1="620.4" y1="277.0" x2="620.4" y2="370.0" stroke="#111" stroke-width="2.0"/>
<path d="M621 301.2 Q646 307.6 672 301.4" fill="none" stroke="#111" stroke-width="0.8" stroke-linejoin="round" />
<path d="M621 303.4 Q646 309.8 672 303.6" fill="none" stroke="#111" stroke-width="0.8" stroke-linejoin="round" />
<line x1="672.0" y1="304.0" x2="672.0" y2="370.0" stroke="#111" stroke-width="0.8"/>
<line x1="676.0" y1="296.0" x2="673.6" y2="330.0" stroke="#111" stroke-width="0.8"/>
<path d="M674 296 Q676 292.6 681 293.8 Q687.6 295.6 687.4 302.4 Q687.2 309 681 309.6 Q676 310 674 306 Z" fill="#fff" stroke="#111" stroke-width="0.8" stroke-linejoin="round" />
<circle cx="680.7" cy="302.2" r="3.6" fill="#fff" stroke="#111" stroke-width="0.8"/>
<path d="M676.4 308.6 L686.6 329" fill="none" stroke="#111" stroke-width="2.0" stroke-linejoin="round" />
<path d="M683.6 309 L689.4 322" fill="none" stroke="#111" stroke-width="0.8" stroke-linejoin="round" />
<circle cx="681.8" cy="324.4" r="5.6" fill="#fff" stroke="#111" stroke-width="0.8"/>
<circle cx="681.8" cy="324.4" r="3.2" fill="#fff" stroke="#111" stroke-width="0.8"/>
<path d="M613.4 258.6 Q614.4 252.4 624 247.6 Q634 243.4 646 243.2 Q660 243.2 670 248.6 Q676.6 252.6 677.2 258.6 L678.8 268 Q680.6 270.6 680.7 274 Q670 282.4 646 282.6 Q622 282.4 609.4 272 Q609.6 269 613.4 266.6 Z" fill="#fff" stroke="#111" stroke-width="0.8" stroke-linejoin="round" />
<path d="M613.4 264 Q622 277.6 646 278.2 Q670 277.8 678.8 266.4" fill="none" stroke="#111" stroke-width="0.8" stroke-linejoin="round" />
<path d="M609.6 270.6 Q622 281 646 281.4 Q670 281 680.6 272.6" fill="none" stroke="#111" stroke-width="1.4" stroke-linejoin="round" />
<path d="M629 267.4 Q646 271.6 663.4 268" fill="none" stroke="#111" stroke-width="0.8" stroke-linejoin="round" />
<line x1="646.0" y1="266.6" x2="646.0" y2="270.6" stroke="#111" stroke-width="0.8"/>
<polygon points="619.6,254.6 626.2,251.9 634.8,258 628.2,261" fill="#222"/>
<path d="M634 242.4 L641 238 L653 237.4 L658.3 242.4 V247.6 L654 251.4 L641 251.8 L634 248.4 Z" fill="#fff" stroke="#111" stroke-width="0.8" stroke-linejoin="round" />
<path d="M634 242.4 L641 246 L654 245.6 L658.3 242.4" fill="none" stroke="#111" stroke-width="0.8" stroke-linejoin="round" />
<line x1="641.0" y1="246.0" x2="641.0" y2="251.8" stroke="#111" stroke-width="0.8"/>
<line x1="654.0" y1="245.6" x2="654.0" y2="251.4" stroke="#111" stroke-width="0.8"/>
<path d="M643 240.4 Q646.6 239 650 240.2" fill="none" stroke="#111" stroke-width="0.8" stroke-linejoin="round" />
<text x="635.8" y="328" font-size="9.4" font-weight="bold" font-style="italic" fill="#1a1a1a" stroke="#1a1a1a" stroke-width="0.5" textLength="26.4" lengthAdjust="spacingAndGlyphs">Hengst</text>
<path d="M564.6 268 Q564.6 256 572 252.4 Q577 250 583 250.6 H594 L602 254 Q606 258 606 266 V280 Q604 286 598 286 H574 Q566 284 564.6 276 Z" fill="#fff" stroke="#111" stroke-width="0.8" stroke-linejoin="round" />
<rect x="600.6" y="252.2" width="5.2" height="3.8" rx="0" fill="#fff" stroke="#111" stroke-width="0.8"/>
<rect x="600.6" y="263.2" width="7.4" height="4.0" rx="0" fill="#fff" stroke="#111" stroke-width="0.8"/>
<rect x="559.6" y="256.4" width="4.6" height="5.6" rx="0" fill="#fff" stroke="#111" stroke-width="0.8"/>
<polygon points="571.2,249.6 575.8,250.8 576,255" fill="#222"/>
<rect x="573.8" y="285.0" width="25.4" height="12.8" rx="1.5" fill="#fff" stroke="#111" stroke-width="0.8"/>
<line x1="577.4" y1="286.4" x2="577.4" y2="297.4" stroke="#111" stroke-width="1.0"/>
<line x1="581.0" y1="286.4" x2="581.0" y2="297.4" stroke="#111" stroke-width="1.0"/>
<line x1="584.6" y1="286.4" x2="584.6" y2="297.4" stroke="#111" stroke-width="1.0"/>
<line x1="588.2" y1="286.4" x2="588.2" y2="297.4" stroke="#111" stroke-width="1.0"/>
<line x1="591.8" y1="286.4" x2="591.8" y2="297.4" stroke="#111" stroke-width="1.0"/>
<line x1="595.4" y1="286.4" x2="595.4" y2="297.4" stroke="#111" stroke-width="1.0"/>
<rect x="582.7" y="251.5" width="10.5" height="9.4" rx="0" fill="#fff" stroke="#111" stroke-width="0.8"/>
<rect x="575.4" y="243.5" width="20.9" height="8.2" rx="0" fill="#fff" stroke="#111" stroke-width="1.0"/>
<line x1="582.4" y1="243.5" x2="582.4" y2="251.7" stroke="#111" stroke-width="0.8"/>
<line x1="589.6" y1="243.5" x2="589.6" y2="251.7" stroke="#111" stroke-width="0.8"/>
<path d="M584.6 243.5 V233.4 Q584.6 230 588.4 230 H592.6 Q596.3 230 596.3 233.4 V243.5 Z" fill="#fff" stroke="#111" stroke-width="1.0" stroke-linejoin="round" />
<path d="M584.4 242.6 Q574.6 243.6 574.4 237.6 Q574.2 231.6 584.4 233" fill="none" stroke="#111" stroke-width="1.7" stroke-linejoin="round" />
<path d="M562 262 L570 257.6 L580 272 L572 280 Z" fill="#fff" stroke="#111" stroke-width="0.8" stroke-linejoin="round" />
<ellipse cx="567.4" cy="266.6" rx="6.4" ry="4.2" transform="rotate(52 567.4 266.6)" fill="#fff" stroke="#111" stroke-width="1.2"/>
<ellipse cx="569.2" cy="270" rx="6.4" ry="4.2" transform="rotate(52 569.2 270)" fill="#fff" stroke="#111" stroke-width="1.4"/>
<path d="M582.6 262 V278 H598.8 V262 Z" fill="#fff" stroke="#111" stroke-width="0.8" stroke-linejoin="round" />
<circle cx="590.7" cy="277.3" r="7.6" fill="#fff" stroke="#111" stroke-width="1.7"/>
<circle cx="590.7" cy="277.3" r="4.8" fill="#fff" stroke="#111" stroke-width="1.1"/>
<path d="M587.6 275 Q590 272.6 593 274" fill="none" stroke="#111" stroke-width="0.8" stroke-linejoin="round" />
<circle cx="571.4" cy="275.4" r="5.0" fill="#fff" stroke="#1c1c1c" stroke-width="3.2"/>
<rect x="569.2" y="273.6" width="4.6" height="4.2" fill="#fff" stroke="#111" stroke-width="0.7" transform="rotate(-12 571.4 275.4)"/>
<circle cx="571.8" cy="275.59999999999997" r="0.7" fill="#333"/>
<rect x="579.0" y="302.6" width="17.4" height="16.4" rx="1.5" fill="#fff" stroke="#111" stroke-width="0.8"/>
<line x1="582.4" y1="302.6" x2="582.4" y2="319.0" stroke="#111" stroke-width="0.8"/>
<rect x="596.2" y="301.0" width="11.2" height="20.5" rx="1.2" fill="#fff" stroke="#111" stroke-width="0.8"/>
<line x1="596.2" y1="307.4" x2="607.4" y2="307.4" stroke="#111" stroke-width="0.8"/>
<line x1="596.2" y1="315.0" x2="607.4" y2="315.0" stroke="#111" stroke-width="0.8"/>
<path d="M607.4 303 H616 V319.6 H607.4" fill="none" stroke="#111" stroke-width="0.8" stroke-linejoin="round" />
<rect x="572.2" y="369.2" width="38.4" height="35.0" rx="5" fill="#fff" stroke="#111" stroke-width="0.8"/>
<rect x="574.0" y="377.0" width="35.6" height="19.0" rx="4" fill="#fff" stroke="#111" stroke-width="0.8"/>
<rect x="596.0" y="338.0" width="11.0" height="12.0" rx="1.5" fill="#fff" stroke="#111" stroke-width="0.8"/>
<circle cx="599.0" cy="348.4" r="2.6" fill="#fff" stroke="#111" stroke-width="0.8"/>
<rect x="587.6" y="340.4" width="4.0" height="5.6" rx="0" fill="#fff" stroke="#111" stroke-width="0.8"/>
<rect x="596.0" y="318.0" width="11.0" height="6.0" rx="1.5" fill="#fff" stroke="#111" stroke-width="0.8"/>
<circle cx="600.6" cy="321.0" r="2.4" fill="#fff" stroke="#111" stroke-width="0.8"/>
<path d="M629 355 V389 H638 V384 H650 V392 H674 V370 H629" fill="#fff" stroke="#111" stroke-width="0.8" stroke-linejoin="round" />
<line x1="629.0" y1="370.0" x2="674.0" y2="370.0" stroke="#111" stroke-width="0.8"/>
<text x="640.8" y="362" font-size="7.4" font-weight="bold" fill="#222">A</text>
<text x="655" y="367.4" font-size="7.4" font-weight="bold" fill="#222">T</text>
<line x1="630.4" y1="322.0" x2="630.4" y2="338.0" stroke="#111" stroke-width="0.8"/>
<circle cx="631.6" cy="341.4" r="2.6" fill="#fff" stroke="#111" stroke-width="0.8"/>
<path d="M629.6 346 Q628 350 630.6 353" fill="none" stroke="#111" stroke-width="0.8" stroke-linejoin="round" />
<path d="M606.6 356 L609 354.5 H623 L625.5 357 V368 L623 370 H609 L606.6 368 Z" fill="#fff" stroke="#111" stroke-width="0.8" stroke-linejoin="round" />
<text x="610" y="364" font-size="7.4" font-weight="bold" fill="#222">Z</text>
<rect x="610.0" y="370.0" width="15.5" height="8.4" rx="1" fill="#fff" stroke="#111" stroke-width="0.8"/>
<rect x="611.2" y="378.4" width="13.4" height="14" fill="#fff" stroke="#111" stroke-width="0.8"/>
<line x1="611.2" y1="380.6" x2="624.6" y2="380.6" stroke="#111" stroke-width="1.3"/>
<line x1="611.2" y1="383.3" x2="624.6" y2="383.3" stroke="#111" stroke-width="1.3"/>
<line x1="611.2" y1="386.0" x2="624.6" y2="386.0" stroke="#111" stroke-width="1.3"/>
<line x1="611.2" y1="388.7" x2="624.6" y2="388.7" stroke="#111" stroke-width="1.3"/>
<line x1="611.2" y1="391.4" x2="624.6" y2="391.4" stroke="#111" stroke-width="1.3"/>
<path d="M612.6 392.4 L614.6 402.6 H621.6 L623.4 392.4 Z" fill="#fff" stroke="#111" stroke-width="0.8" stroke-linejoin="round" />
<line x1="613.4" y1="396.0" x2="622.8" y2="396.0" stroke="#111" stroke-width="1.2"/>
<line x1="614.0" y1="399.4" x2="622.2" y2="399.4" stroke="#111" stroke-width="1.2"/>
<rect x="638.4" y="383.0" width="7.8" height="23.0" rx="0" fill="#fff" stroke="#111" stroke-width="0.8"/>
<circle cx="642.8" cy="375.4" r="6.0" fill="#fff" stroke="#111" stroke-width="0.8"/>
<path d="M637.6 372.6 Q642.8 367.4 648 372.6" fill="none" stroke="#111" stroke-width="2.4" stroke-linejoin="round" />
<circle cx="642.8" cy="376.0" r="4.0" fill="#fff" stroke="#111" stroke-width="0.8"/>
<circle cx="656.6" cy="385.6" r="5.4" fill="#fff" stroke="#1c1c1c" stroke-width="2.8"/>
<circle cx="656.6" cy="385.6" r="1.2" fill="#333" stroke="#111" stroke-width="0.8"/>
<circle cx="668.6" cy="375.2" r="3.1" fill="#fff" stroke="#111" stroke-width="0.8"/>
<path d="M653.6 394.6 Q657 401.6 665.6 402.6 Q673 403 676.4 397.6" fill="none" stroke="#222" stroke-width="4.6" stroke-linejoin="round" />
<path d="M653.6 394.6 Q657 401.6 665.6 402.6 Q673 403 676.4 397.6" fill="none" stroke="#fff" stroke-width="2.8" stroke-linejoin="round" stroke-dasharray="2.2 1.4"/>
<rect x="673.8" y="369.0" width="7.0" height="15.0" rx="1" fill="#fff" stroke="#111" stroke-width="0.8"/>
<rect x="680.7" y="366.6" width="15.5" height="19.6" rx="1.5" fill="#fff" stroke="#111" stroke-width="0.8"/>
<line x1="685.6" y1="366.6" x2="685.6" y2="386.2" stroke="#111" stroke-width="0.8"/>
<line x1="691.6" y1="366.6" x2="691.6" y2="386.2" stroke="#111" stroke-width="0.8"/>
<rect x="682.4" y="363" width="12" height="3.4" fill="#333"/>
<rect x="696.2" y="369.6" width="5.2" height="14.6" rx="0" fill="#fff" stroke="#111" stroke-width="0.8"/>
<rect x="701.4" y="370" width="5.4" height="14" rx="1.4" fill="#2a2a2a"/>
<rect x="703.0" y="369.4" width="10.4" height="6.6" rx="0" fill="#fff" stroke="#111" stroke-width="0.8"/>
<rect x="713.4" y="367.4" width="19.0" height="10.4" rx="1.5" fill="#fff" stroke="#111" stroke-width="0.8"/>
<rect x="732.4" y="369.0" width="5.2" height="7.2" rx="0" fill="#fff" stroke="#111" stroke-width="0.8"/>
<rect x="737.6" y="370.4" width="11.0" height="5.4" rx="0" fill="#fff" stroke="#111" stroke-width="0.8"/>
<path d="M705.4 305 L706 336 Q706.6 352 709.6 368 L714 392 Q715.6 400 716.6 405" fill="none" stroke="#111" stroke-width="9.2" stroke-linecap="butt" stroke-linejoin="round"/><path d="M705.4 305 L706 336 Q706.6 352 709.6 368 L714 392 Q715.6 400 716.6 405" fill="none" stroke="#fff" stroke-width="7.6" stroke-linecap="butt" stroke-linejoin="round"/>
<rect x="596.0" y="405.3" width="40.0" height="10.4" rx="0" fill="#fff" stroke="#111" stroke-width="0.8"/>
<rect x="650.5" y="405.3" width="40.0" height="10.4" rx="0" fill="#fff" stroke="#111" stroke-width="0.8"/>
<path d="M733 326 L740 348 Q745.6 368 743.4 384 Q740 410.6 712 410.6 H700" fill="none" stroke="#111" stroke-width="10.4" stroke-linecap="butt" stroke-linejoin="round"/><path d="M733 326 L740 348 Q745.6 368 743.4 384 Q740 410.6 712 410.6 H700" fill="none" stroke="#fff" stroke-width="8.8" stroke-linecap="butt" stroke-linejoin="round"/>
<rect x="585.0" y="404.0" width="11.0" height="13.0" rx="1" fill="#fff" stroke="#111" stroke-width="0.8"/>
<rect x="636.0" y="404.0" width="14.5" height="13.0" rx="1" fill="#fff" stroke="#111" stroke-width="0.8"/>
<rect x="690.0" y="404.0" width="11.4" height="13.0" rx="1" fill="#fff" stroke="#111" stroke-width="0.8"/>
<line x1="587.6" y1="404.0" x2="587.6" y2="417.0" stroke="#111" stroke-width="0.8"/>
<line x1="639.0" y1="404.0" x2="639.0" y2="417.0" stroke="#111" stroke-width="0.8"/>
<line x1="647.6" y1="404.0" x2="647.6" y2="417.0" stroke="#111" stroke-width="0.8"/>
<line x1="693.0" y1="404.0" x2="693.0" y2="417.0" stroke="#111" stroke-width="0.8"/>
<rect x="692.0" y="297.4" width="9.0" height="3.6" rx="0" fill="#fff" stroke="#111" stroke-width="0.8"/>
<path d="M699.6 295.7 H710 Q712.6 295.7 712.6 298.4 V304.3 H699.6 Z" fill="#fff" stroke="#111" stroke-width="0.8" stroke-linejoin="round" />
<line x1="703.6" y1="295.7" x2="703.6" y2="304.3" stroke="#111" stroke-width="0.8"/>
<rect x="697.2" y="287.6" width="15.6" height="5.2" rx="1" fill="#fff" stroke="#111" stroke-width="0.8"/>
<line x1="697.2" y1="289.4" x2="712.8" y2="289.4" stroke="#111" stroke-width="1.1"/>
<line x1="697.2" y1="291.2" x2="712.8" y2="291.2" stroke="#111" stroke-width="1.1"/>
<rect x="701.4" y="304.3" width="7.6" height="4.0" rx="0" fill="#fff" stroke="#111" stroke-width="0.8"/>
<circle cx="730.4" cy="318.8" r="6.0" fill="#fff" stroke="#1c1c1c" stroke-width="3.6"/>
<circle cx="732.0" cy="319.4" r="2.2" fill="#fff" stroke="#111" stroke-width="0.8"/>
<circle cx="732.4" cy="319.4" r="0.6" fill="#333" stroke="#111" stroke-width="0.8"/>
<path d="M861 245.4 H870 Q891.5 245.4 891.5 224 V207" fill="none" stroke="#111" stroke-width="8.6" stroke-linecap="butt" stroke-linejoin="round"/><path d="M861 245.4 H870 Q891.5 245.4 891.5 224 V207" fill="none" stroke="#fff" stroke-width="7.0" stroke-linecap="butt" stroke-linejoin="round"/>
<rect x="886.5" y="196.8" width="10.5" height="10.3" rx="1.5" fill="#fff" stroke="#111" stroke-width="0.8"/>
<path d="M833.5 251 V260 Q833.5 268 828 274 L820 283 Q815 288.5 813.6 296 L808.4 334 Q807 343 800 348.4 L784 358.6 L772 366 Q765 370.4 757 372.6 L748.7 374.4" fill="none" stroke="#111" stroke-width="5.6" stroke-linecap="butt" stroke-linejoin="round"/><path d="M833.5 251 V260 Q833.5 268 828 274 L820 283 Q815 288.5 813.6 296 L808.4 334 Q807 343 800 348.4 L784 358.6 L772 366 Q765 370.4 757 372.6 L748.7 374.4" fill="none" stroke="#fff" stroke-width="3.9999999999999996" stroke-linecap="butt" stroke-linejoin="round"/>
<rect x="813.2" y="240.6" width="9.0" height="9.4" rx="0" fill="#fff" stroke="#111" stroke-width="0.8"/>
<rect x="822.2" y="242.0" width="4.6" height="6.6" rx="0" fill="#fff" stroke="#111" stroke-width="0.8"/>
<rect x="838.3" y="242.0" width="9.8" height="6.6" rx="0" fill="#fff" stroke="#111" stroke-width="0.8"/>
<rect x="848.0" y="241.2" width="4.6" height="8.2" rx="0" fill="#fff" stroke="#111" stroke-width="0.8"/>
<rect x="852.4" y="240.2" width="8.8" height="10.4" rx="1" fill="#fff" stroke="#111" stroke-width="0.8"/>
<path d="M829 239.6 H836 L838.6 245.4 L836 251.2 H829 L826.3 245.4 Z" fill="#fff" stroke="#111" stroke-width="1.1" stroke-linejoin="round" />
<line x1="829.0" y1="239.6" x2="829.0" y2="251.2" stroke="#111" stroke-width="0.8"/>
<line x1="836.0" y1="239.6" x2="836.0" y2="251.2" stroke="#111" stroke-width="0.8"/>
<text x="369.4" y="72.9" font-size="14.8" fill="#000">1</text>
<line x1="379.5" y1="70" x2="411.5" y2="78.9" stroke="#000" stroke-width="1.05"/><polygon points="419,81 410.8,81.4 412.2,76.4" fill="#000"/>
<text x="641" y="70" font-size="14.8" fill="#000">2</text>
<line x1="645.5" y1="72.9" x2="637.4" y2="191.5" stroke="#000" stroke-width="1.05"/><polygon points="636.9,199.3 634.8,191.3 640.0,191.7" fill="#000"/>
<text x="847.5" y="75" font-size="14.8" fill="#000">3</text>
<line x1="850.8" y1="77.6" x2="823.1" y2="201.0" stroke="#000" stroke-width="1.05"/><polygon points="821.4,208.6 820.6,200.4 825.6,201.6" fill="#000"/>
<text x="920" y="75" font-size="14.8" fill="#000">4</text>
<line x1="927.9" y1="77.6" x2="940.4" y2="131.6" stroke="#000" stroke-width="1.05"/><polygon points="942.2,139.2 937.9,132.2 943.0,131.0" fill="#000"/>
<text x="876.5" y="293.8" font-size="14.8" fill="#000">5</text>
<line x1="873.5" y1="289" x2="721.8" y2="291.4" stroke="#000" stroke-width="1.05"/><polygon points="714,291.5 721.8,288.8 721.8,294.0" fill="#000"/>
<text x="876.5" y="334.9" font-size="14.8" fill="#000">6</text>
<line x1="873" y1="328" x2="742.8" y2="319.5" stroke="#000" stroke-width="1.05"/><polygon points="735,319 743.0,316.9 742.6,322.1" fill="#000"/>
<text x="859.5" y="375.3" font-size="14.8" fill="#000">7</text>
<line x1="857.5" y1="368.5" x2="818.1" y2="344.1" stroke="#000" stroke-width="1.05"/><polygon points="811.5,340 819.5,341.9 816.8,346.3" fill="#000"/>
<text x="776.5" y="424.7" font-size="14.8" fill="#000">8</text>
<line x1="772.5" y1="414" x2="667.5" y2="344.3" stroke="#000" stroke-width="1.05"/><polygon points="661,340 668.9,342.1 666.1,346.5" fill="#000"/>
<text x="699" y="448.4" font-size="14.8" fill="#000">9</text>
<line x1="697.5" y1="436" x2="675.2" y2="410.8" stroke="#000" stroke-width="1.05"/><polygon points="670,405 677.1,409.1 673.2,412.6" fill="#000"/>
<text x="604" y="461.5" font-size="14.8" fill="#000">10</text>
<line x1="609" y1="449" x2="592.0" y2="323.2" stroke="#000" stroke-width="1.05"/><polygon points="591,315.5 594.6,322.9 589.5,323.6" fill="#000"/>
<text x="561" y="458.5" font-size="14.8" fill="#000">11</text>
<line x1="568.5" y1="445" x2="574.3" y2="302.3" stroke="#000" stroke-width="1.05"/><polygon points="574.6,294.5 576.9,302.4 571.7,302.2" fill="#000"/>
<text x="492.5" y="463" font-size="14.8" fill="#000">12</text>
<line x1="499.5" y1="450" x2="526.6" y2="349.5" stroke="#000" stroke-width="1.05"/><polygon points="528.6,342 529.1,350.2 524.1,348.9" fill="#000"/>
<text x="405" y="456.3" font-size="14.8" fill="#000">13</text>
<line x1="412.5" y1="442.5" x2="448.7" y2="346.3" stroke="#000" stroke-width="1.05"/><polygon points="451.5,339 451.2,347.2 446.3,345.4" fill="#000"/>
<text x="370.5" y="250" font-size="14.8" fill="#000">14</text>
<line x1="387.5" y1="242.4" x2="451.0" y2="217.1" stroke="#000" stroke-width="1.05"/><polygon points="458.2,214.2 451.9,219.5 450.0,214.7" fill="#000"/>
<text x="516.5" y="242" font-size="14.8" fill="#000">15</text>
<line x1="534.5" y1="236.6" x2="566.0" y2="236.6" stroke="#000" stroke-width="2.0"/><polygon points="574,236.6 566.0,239.5 566.0,233.7" fill="#000"/>
<text x="933.6" y="477.8" font-size="8.7" font-weight="bold" fill="#000" textLength="28.8" lengthAdjust="spacingAndGlyphs">V00087</text>
</svg>
<p class="cap">Figure 87</p><p class="cap" style="left:432.4px">Fuel system</p>
<ol style="left:373px">
<li><span>1.</span><b style="left:22px">Injector (6)</b></li>
<li><span>2.</span><b style="left:22px">Fuel Rail</b></li>
<li><span>3.</span><b style="left:22px">Fuel rail pressure limiting valve</b></li>
<li><span>4.</span><b style="left:22px">Fuel return from cylinder head</b></li>
<li><span>5.</span><b style="left:22px">Engine fuel return connection (to</b></li>
<li><b style="left:22px">chassis filter)</b></li>
</ol>
<ol style="left:579px">
<li><span>6.</span><b style="left:23px">Fuel supply to DSI unit</b></li>
<li><span>7.</span><b style="left:23px">Fuel return line</b></li>
<li><span>8.</span><b style="left:23px">Secondary fuel filter assembly</b></li>
<li><span>9.</span><b style="left:23px">Drain screw</b></li>
<li><span>10.</span><b style="left:23px">Fuel Delivery Pressure (FDP)</b></li>
<li><b style="left:23px">sensor</b></li>
</ol>
<ol style="left:786px">
<li><span>11.</span><b style="left:23px">Fuel strainer</b></li>
<li><span>12.</span><b style="left:23px">Low-pressure (LP) fuel pump</b></li>
<li><span>13.</span><b style="left:23px">HP fuel pump</b></li>
<li><span>14.</span><b style="left:23px">Fuel Rail Pressure (FRP) sensor</b></li>
<li><span>15.</span><b style="left:23px">Fuel primer pump</b></li>
</ol>
<svg id="wm" width="1299" height="609" viewBox="0 0 1299 609" style="position:absolute;left:0;top:0">
<g id="wm-logo">
<path d="M1053 553 L1072 553 C1090 553 1096 563 1094 573 C1092 585 1080 593.5 1064 593.5 L1053 593.5 Z M1062 560 L1062 587 L1066 587 C1076 586 1084 580 1085 571 C1086 564 1080 560 1071 560 Z" fill="#5a9a48" fill-rule="evenodd"/>
<path d="M1098.5 554 L1108 553 L1103 592.5 L1094 592.5 Z" fill="#4361a3"/>
<path d="M1130 552 L1140.5 551 L1136.5 596 L1127 598 Z" fill="#4361a3"/>
<path d="M1152 556 L1180 555.5 C1186 555.5 1188.5 558 1187 561 C1186 564 1182 565 1178 565 L1165.5 565 L1164.5 592.5 L1155.5 592.5 L1156.5 565 L1151 565 Z" fill="#4361a3"/>
<path d="M1078 591 C1095 585 1110 566 1135 557 C1148 552.5 1160 552.5 1168 554 C1150 556 1138 562 1126 572 C1112 584 1100 592 1086 593.5 Z" fill="#5a9a48"/>
</g>
<text x="1186.5" y="595" transform="translate(42 0) skewX(-4)" font-family="'Liberation Sans',Arial,sans-serif" font-weight="bold" font-size="26.5" textLength="102" lengthAdjust="spacingAndGlyphs" fill="#5a9a48" stroke="#5a9a48" stroke-width="1.3">AUTO</text>
<defs><filter id="ol" x="-5%" y="-10%" width="110%" height="120%"><feMorphology in="SourceAlpha" operator="dilate" radius="0.6" result="d"/><feComposite in="d" in2="SourceAlpha" operator="out" result="ring"/><feFlood flood-color="#dcb24e" flood-opacity="0.7"/><feComposite in2="ring" operator="in" result="gold"/><feColorMatrix in="SourceGraphic" type="matrix" values="1 0 0 0 0 0 1 0 0 0 0 0 1 0 0 0 0 0 0.55 0" result="fade"/><feMerge><feMergeNode in="fade"/><feMergeNode in="gold"/></feMerge></filter></defs>
<text x="1073" y="567.6" filter="url(#ol)" font-family="'DejaVu Serif','Liberation Serif',serif" font-weight="bold" font-style="italic" font-size="70" textLength="173" lengthAdjust="spacingAndGlyphs" fill="#ffffff" stroke="#ffffff" stroke-width="5.6" stroke-linejoin="miter">DHT</text>
<text x="1044.3" y="602" font-family="'Liberation Mono','Courier New',monospace" font-size="18.25" textLength="252" lengthAdjust="spacing" fill="#cf9450" fill-opacity="0.8">Sharing creates success</text>
<defs><filter id="glow" x="-20%" y="-20%" width="140%" height="140%"><feGaussianBlur stdDeviation="1.6"/></filter></defs>
<circle cx="998.3" cy="556.2" r="46.2" fill="#f9a21a" fill-opacity="0.40"/>
<path d="M979.4 584.5 Q996 552 1018.3 524.2 M979.8 543 Q1000 534 1018.3 524.2 Q1019.5 545 1017 562.3" fill="none" stroke="#ffdc5e" stroke-width="5.5" stroke-linecap="round" stroke-linejoin="round" filter="url(#glow)" opacity="0.9"/>
<path d="M979.4 584.5 Q996 552 1018.3 524.2 M979.8 543 Q1000 534 1018.3 524.2 Q1019.5 545 1017 562.3" fill="none" stroke="#fffdf0" stroke-width="2.3" stroke-linecap="round" stroke-linejoin="round"/>
</svg>

</body>
</html>
